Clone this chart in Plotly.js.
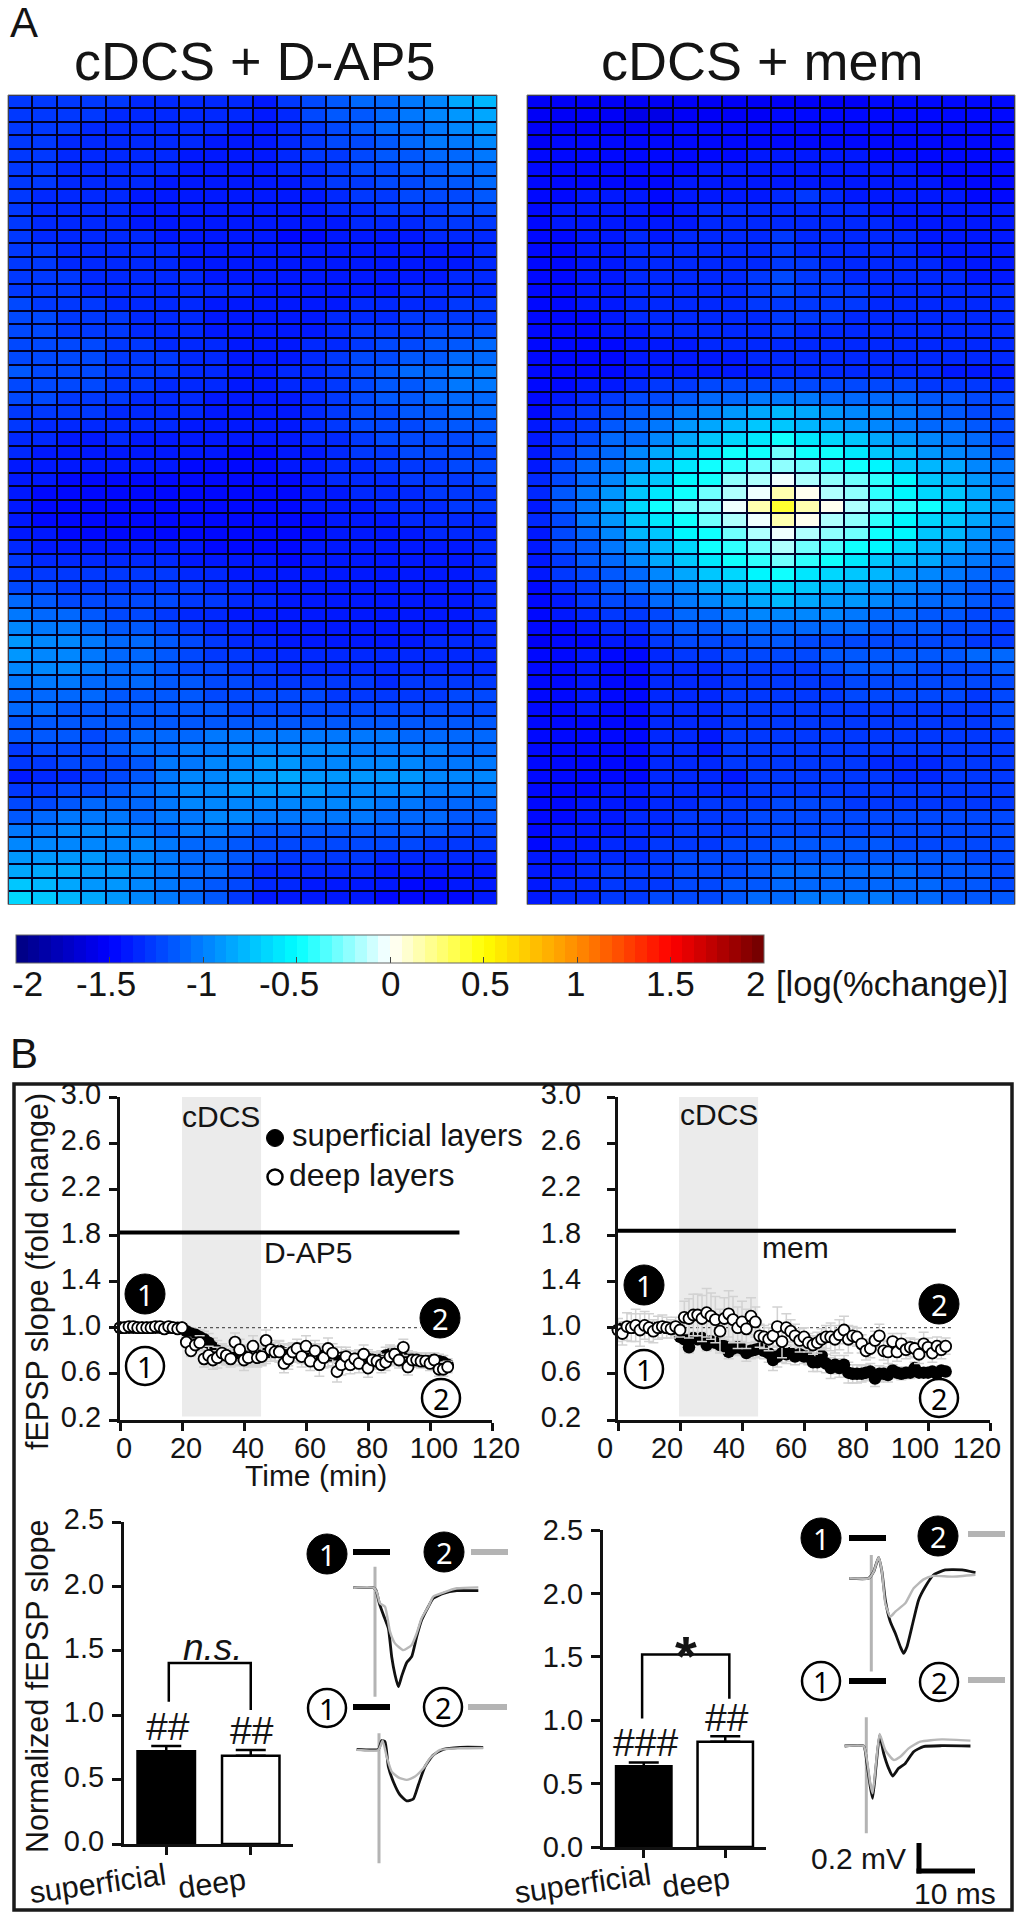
<!DOCTYPE html>
<html>
<head>
<meta charset="utf-8">
<script src="https://cdn.plot.ly/plotly-3.0.1.min.js"></script>
<style>html,body{margin:0;padding:0;background:#fff}#chart{width:1024px;height:1920px}</style>
</head>
<body>
<div id="chart"></div>
<script>
// ---------- Panel A: log(%change) in hundredths, 60 rows x 20 columns ----------
const dap5Rows = [
[-130,-130,-130,-131,-131,-132,-132,-133,-134,-136,-138,-128,-122,-116,-112,-108,-102,-96,-86,-78],
[-129,-130,-130,-131,-132,-133,-133,-134,-135,-137,-139,-132,-124,-118,-114,-109,-104,-98,-90,-83],
[-128,-130,-131,-132,-133,-133,-134,-135,-137,-139,-139,-134,-126,-120,-116,-112,-107,-102,-96,-90],
[-128,-130,-132,-133,-134,-134,-135,-136,-138,-140,-140,-135,-128,-123,-119,-115,-110,-106,-102,-97],
[-129,-130,-133,-134,-134,-135,-136,-138,-141,-141,-140,-136,-131,-126,-122,-118,-114,-110,-107,-103],
[-129,-131,-134,-135,-135,-136,-137,-139,-142,-142,-141,-137,-133,-129,-125,-121,-117,-114,-111,-107],
[-129,-131,-134,-135,-136,-137,-138,-140,-142,-143,-142,-139,-135,-131,-128,-124,-120,-118,-115,-111],
[-130,-132,-135,-136,-137,-138,-140,-141,-142,-142,-142,-140,-138,-134,-131,-128,-125,-122,-120,-117],
[-130,-132,-135,-136,-137,-138,-140,-141,-141,-141,-141,-141,-140,-137,-134,-131,-129,-127,-125,-122],
[-129,-132,-135,-136,-137,-138,-139,-140,-140,-141,-142,-143,-142,-140,-137,-135,-133,-131,-129,-127],
[-128,-132,-135,-136,-136,-137,-138,-140,-141,-141,-142,-144,-144,-143,-141,-139,-138,-137,-136,-135],
[-128,-131,-134,-135,-136,-137,-137,-139,-140,-140,-141,-143,-143,-143,-142,-141,-140,-139,-139,-137],
[-127,-130,-132,-134,-135,-136,-136,-138,-139,-139,-140,-141,-142,-142,-141,-140,-139,-139,-138,-137],
[-128,-130,-131,-132,-134,-135,-136,-137,-138,-138,-139,-140,-141,-140,-140,-139,-138,-138,-137,-136],
[-128,-130,-131,-132,-133,-134,-135,-136,-137,-137,-138,-140,-140,-140,-139,-138,-137,-137,-136,-136],
[-125,-127,-129,-130,-132,-134,-134,-135,-138,-141,-141,-142,-142,-139,-135,-137,-134,-132,-131,-130],
[-124,-124,-126,-128,-131,-134,-134,-136,-139,-142,-142,-143,-140,-136,-133,-133,-130,-129,-128,-127],
[-124,-124,-126,-128,-130,-133,-134,-136,-140,-142,-142,-143,-138,-134,-130,-129,-127,-124,-122,-122],
[-122,-122,-123,-125,-127,-129,-132,-134,-137,-140,-141,-142,-136,-132,-127,-125,-122,-118,-115,-112],
[-120,-120,-122,-124,-127,-128,-131,-133,-136,-139,-140,-138,-134,-129,-125,-119,-115,-113,-108,-107],
[-116,-120,-122,-123,-126,-128,-130,-133,-135,-140,-140,-137,-133,-127,-123,-117,-112,-109,-106,-104],
[-120,-122,-123,-125,-128,-130,-132,-134,-137,-141,-140,-137,-133,-127,-122,-117,-113,-110,-106,-103],
[-122,-123,-126,-127,-129,-132,-133,-136,-139,-141,-141,-140,-134,-128,-123,-118,-114,-112,-110,-108],
[-126,-128,-128,-130,-132,-134,-135,-137,-140,-142,-142,-141,-135,-129,-125,-121,-118,-113,-112,-110],
[-130,-134,-134,-134,-135,-136,-137,-139,-141,-142,-143,-141,-135,-130,-125,-122,-120,-117,-116,-114],
[-134,-137,-138,-138,-137,-138,-139,-141,-142,-143,-143,-142,-136,-132,-128,-125,-122,-120,-119,-117],
[-137,-140,-141,-141,-140,-140,-141,-142,-143,-144,-144,-142,-138,-134,-131,-128,-125,-123,-121,-120],
[-138,-142,-143,-143,-142,-142,-143,-144,-145,-145,-144,-143,-140,-136,-133,-130,-128,-126,-124,-123],
[-140,-143,-145,-145,-145,-144,-144,-145,-145,-145,-145,-144,-141,-137,-134,-132,-130,-128,-127,-125],
[-143,-146,-147,-147,-147,-146,-146,-146,-146,-146,-146,-145,-142,-138,-136,-134,-132,-130,-129,-127],
[-143,-146,-147,-147,-147,-146,-146,-146,-146,-146,-146,-145,-143,-140,-138,-136,-134,-132,-131,-130],
[-140,-144,-146,-146,-147,-145,-145,-145,-146,-146,-146,-145,-144,-142,-139,-138,-136,-135,-134,-132],
[-140,-143,-145,-146,-146,-145,-144,-144,-145,-146,-146,-145,-144,-142,-140,-139,-138,-137,-136,-134],
[-136,-140,-142,-143,-143,-142,-142,-143,-144,-145,-145,-145,-143,-142,-140,-140,-139,-139,-138,-136],
[-131,-134,-135,-136,-136,-135,-136,-138,-140,-142,-143,-144,-143,-142,-141,-141,-140,-140,-139,-137],
[-127,-130,-131,-131,-131,-130,-131,-134,-137,-140,-142,-143,-143,-143,-142,-142,-141,-141,-140,-137],
[-120,-124,-126,-126,-127,-126,-127,-130,-133,-136,-139,-141,-142,-142,-142,-142,-141,-141,-140,-137],
[-112,-117,-120,-122,-124,-124,-125,-128,-131,-134,-137,-140,-141,-142,-142,-142,-141,-141,-140,-137],
[-103,-108,-112,-118,-122,-124,-128,-132,-136,-138,-140,-141,-141,-141,-141,-141,-141,-140,-139,-137],
[-99,-102,-106,-110,-115,-118,-124,-128,-132,-135,-138,-139,-140,-140,-140,-140,-140,-139,-138,-136],
[-93,-96,-100,-105,-110,-112,-118,-124,-128,-132,-136,-138,-138,-139,-138,-138,-138,-137,-136,-135],
[-92,-95,-98,-102,-108,-110,-116,-122,-126,-130,-134,-135,-137,-137,-137,-137,-137,-136,-135,-134],
[-97,-98,-100,-104,-108,-110,-115,-120,-124,-128,-131,-132,-134,-135,-135,-135,-134,-134,-133,-132],
[-101,-102,-105,-107,-110,-112,-116,-118,-122,-125,-127,-127,-130,-131,-131,-132,-131,-130,-129,-128],
[-107,-108,-110,-112,-113,-114,-117,-118,-120,-122,-124,-125,-125,-127,-127,-127,-127,-126,-125,-124],
[-111,-112,-113,-114,-115,-115,-116,-117,-118,-119,-120,-121,-121,-122,-122,-122,-122,-120,-120,-119],
[-115,-113,-115,-115,-116,-116,-116,-116,-116,-116,-115,-115,-115,-116,-116,-116,-117,-116,-115,-115],
[-118,-116,-118,-120,-114,-112,-110,-108,-104,-103,-102,-102,-103,-104,-105,-106,-107,-109,-110,-111],
[-128,-124,-122,-124,-118,-112,-108,-104,-102,-100,-97,-97,-99,-100,-101,-102,-104,-106,-107,-108],
[-130,-128,-122,-124,-120,-113,-106,-102,-100,-95,-93,-93,-96,-96,-96,-97,-98,-102,-102,-103],
[-138,-134,-132,-126,-122,-114,-103,-100,-94,-92,-88,-86,-92,-93,-93,-93,-93,-98,-98,-98],
[-130,-127,-122,-120,-116,-110,-102,-100,-96,-91,-90,-90,-93,-95,-95,-95,-97,-102,-102,-102],
[-121,-119,-113,-112,-110,-107,-103,-100,-97,-96,-97,-99,-100,-100,-100,-102,-106,-108,-108,-108],
[-113,-110,-106,-106,-105,-107,-105,-102,-99,-100,-103,-105,-106,-106,-106,-108,-110,-112,-113,-114],
[-105,-102,-100,-99,-100,-105,-107,-105,-106,-108,-113,-113,-113,-114,-114,-114,-116,-118,-119,-120],
[-99,-97,-96,-95,-96,-100,-106,-107,-110,-113,-120,-122,-121,-122,-124,-124,-125,-127,-128,-128],
[-93,-92,-91,-93,-94,-98,-104,-107,-112,-118,-125,-128,-127,-128,-130,-132,-133,-135,-136,-135],
[-85,-86,-86,-91,-92,-97,-103,-107,-112,-122,-132,-133,-134,-135,-137,-138,-139,-140,-140,-139],
[-75,-77,-82,-89,-91,-96,-103,-107,-113,-125,-136,-137,-138,-139,-141,-143,-144,-144,-142,-140],
[-66,-70,-77,-87,-90,-96,-103,-108,-114,-128,-140,-140,-141,-142,-143,-145,-146,-146,-144,-141]
];
const memRows = [
[-153,-153,-153,-154,-154,-154,-153,-153,-153,-153,-153,-153,-153,-152,-149,-149,-148,-148,-148,-148],
[-155,-155,-156,-156,-157,-157,-156,-152,-151,-151,-150,-150,-150,-150,-149,-149,-149,-148,-148,-148],
[-154,-154,-153,-152,-152,-151,-150,-149,-149,-148,-148,-148,-148,-148,-148,-148,-148,-148,-148,-148],
[-155,-150,-149,-149,-149,-148,-148,-147,-146,-146,-145,-145,-146,-146,-146,-146,-147,-147,-147,-147],
[-150,-148,-148,-148,-147,-147,-146,-145,-144,-142,-140,-140,-141,-142,-144,-145,-145,-146,-146,-146],
[-148,-148,-148,-147,-147,-146,-144,-143,-142,-141,-139,-139,-140,-141,-142,-143,-144,-145,-145,-146],
[-148,-147,-147,-146,-146,-145,-143,-142,-141,-140,-139,-139,-139,-140,-141,-142,-143,-144,-144,-145],
[-148,-146,-142,-142,-143,-144,-142,-140,-139,-138,-132,-131,-137,-139,-140,-141,-142,-143,-144,-144],
[-147,-141,-142,-142,-143,-144,-140,-136,-135,-135,-133,-134,-135,-136,-138,-139,-141,-142,-143,-143],
[-146,-143,-143,-143,-143,-143,-139,-136,-135,-135,-134,-134,-135,-136,-137,-138,-140,-142,-143,-143],
[-146,-144,-143,-142,-137,-138,-137,-136,-135,-134,-128,-133,-134,-135,-136,-137,-139,-141,-142,-142],
[-146,-144,-143,-141,-136,-137,-136,-135,-134,-133,-126,-132,-133,-134,-135,-136,-138,-140,-141,-141],
[-146,-144,-142,-140,-136,-136,-135,-134,-133,-132,-126,-131,-132,-133,-134,-135,-137,-139,-140,-140],
[-146,-144,-142,-140,-135,-135,-134,-133,-132,-131,-125,-130,-131,-132,-133,-134,-136,-137,-138,-138],
[-146,-144,-142,-140,-135,-135,-134,-133,-132,-131,-125,-130,-130,-131,-132,-133,-135,-136,-136,-136],
[-147,-145,-143,-141,-136,-135,-134,-133,-132,-131,-126,-130,-130,-131,-132,-133,-134,-135,-135,-135],
[-147,-146,-144,-142,-137,-136,-135,-134,-133,-132,-127,-131,-131,-132,-133,-134,-134,-135,-135,-135],
[-148,-147,-145,-143,-138,-137,-136,-135,-134,-133,-128,-132,-132,-133,-134,-135,-135,-136,-136,-136],
[-148,-147,-146,-144,-140,-139,-138,-137,-136,-135,-133,-134,-134,-135,-135,-136,-136,-137,-137,-137],
[-148,-148,-147,-145,-141,-140,-139,-138,-138,-137,-135,-135,-135,-136,-136,-137,-137,-137,-137,-137],
[-148,-148,-147,-145,-142,-141,-140,-139,-138,-138,-136,-136,-136,-137,-137,-137,-137,-138,-138,-138],
[-147,-147,-142,-139,-133,-131,-127,-124,-122,-121,-120,-120,-121,-122,-124,-125,-127,-129,-131,-133],
[-146,-138,-135,-131,-125,-122,-117,-111,-107,-106,-105,-106,-108,-110,-111,-112,-115,-118,-121,-124],
[-144,-134,-128,-122,-115,-108,-102,-96,-90,-85,-81,-86,-91,-96,-100,-104,-110,-116,-120,-125],
[-143,-133,-128,-118,-110,-104,-93,-85,-79,-75,-74,-79,-85,-93,-97,-102,-108,-112,-116,-122],
[-142,-128,-122,-112,-107,-97,-83,-74,-68,-58,-50,-58,-68,-75,-83,-91,-99,-105,-111,-121],
[-141,-127,-118,-108,-99,-85,-74,-58,-50,-44,-30,-44,-50,-62,-72,-81,-91,-97,-105,-113],
[-139,-125,-112,-103,-89,-75,-62,-50,-42,-30,-19,-30,-38,-48,-56,-70,-79,-87,-97,-105],
[-137,-122,-108,-97,-81,-70,-56,-44,-25,-15,-5,-17,-25,-26,-40,-54,-70,-81,-91,-101],
[-136,-117,-101,-89,-75,-62,-44,-28,-17,-5,17,0,-13,-25,-40,-52,-66,-75,-85,-95],
[-138,-115,-101,-87,-68,-50,-30,-19,-4,17,42,17,0,-13,-26,-40,-50,-68,-81,-93],
[-136,-119,-101,-89,-75,-60,-44,-28,-16,-5,17,0,-13,-25,-38,-52,-66,-75,-85,-95],
[-138,-123,-108,-97,-81,-70,-55,-44,-26,-15,-5,-16,-22,-30,-44,-56,-70,-81,-91,-101],
[-140,-125,-113,-103,-91,-77,-63,-50,-38,-28,-18,-30,-36,-44,-54,-66,-77,-87,-97,-105],
[-141,-128,-118,-108,-99,-85,-75,-60,-50,-42,-30,-42,-50,-60,-70,-78,-87,-95,-103,-111],
[-143,-130,-122,-113,-107,-95,-85,-73,-65,-56,-50,-58,-66,-73,-81,-89,-95,-103,-109,-115],
[-145,-134,-126,-118,-112,-104,-95,-85,-78,-70,-64,-71,-77,-84,-90,-97,-103,-108,-113,-118],
[-147,-140,-130,-124,-120,-112,-105,-98,-92,-85,-79,-84,-88,-93,-98,-103,-108,-112,-116,-120],
[-148,-143,-133,-129,-126,-119,-112,-108,-104,-98,-95,-98,-100,-104,-107,-110,-113,-117,-120,-123],
[-150,-147,-140,-136,-134,-125,-118,-115,-112,-108,-107,-109,-110,-112,-114,-116,-118,-121,-124,-126],
[-152,-150,-147,-142,-140,-130,-125,-123,-120,-118,-118,-120,-121,-122,-122,-122,-123,-125,-127,-128],
[-145,-146,-143,-146,-147,-132,-128,-128,-124,-122,-122,-122,-118,-116,-115,-115,-116,-118,-110,-112],
[-146,-148,-143,-146,-147,-136,-134,-132,-127,-126,-126,-126,-120,-118,-118,-118,-120,-124,-120,-116],
[-147,-148,-142,-146,-147,-136,-135,-134,-127,-126,-127,-126,-126,-120,-120,-120,-122,-124,-124,-120],
[-148,-149,-143,-146,-147,-136,-136,-135,-127,-127,-127,-127,-128,-122,-121,-121,-123,-125,-126,-122],
[-148,-149,-143,-146,-147,-137,-136,-136,-128,-127,-128,-128,-129,-126,-126,-127,-126,-127,-128,-124],
[-148,-149,-144,-146,-147,-137,-137,-137,-129,-128,-129,-129,-130,-129,-129,-128,-128,-128,-128,-125],
[-148,-149,-144,-146,-147,-137,-137,-138,-129,-129,-129,-130,-130,-130,-131,-130,-130,-130,-130,-127],
[-148,-149,-144,-146,-147,-137,-137,-138,-130,-130,-130,-130,-130,-131,-131,-131,-131,-130,-130,-128],
[-147,-146,-144,-145,-146,-137,-137,-137,-131,-130,-130,-130,-130,-131,-132,-132,-132,-131,-131,-129],
[-147,-146,-144,-145,-145,-137,-137,-136,-141,-131,-130,-130,-130,-131,-131,-132,-132,-131,-131,-130],
[-146,-146,-144,-142,-142,-136,-136,-132,-132,-130,-128,-128,-128,-130,-130,-130,-130,-130,-130,-129],
[-146,-145,-143,-141,-141,-136,-132,-130,-130,-128,-125,-124,-124,-126,-127,-127,-127,-128,-128,-128],
[-145,-145,-143,-138,-137,-137,-131,-129,-128,-125,-122,-122,-122,-123,-124,-124,-125,-125,-125,-125],
[-145,-141,-140,-138,-135,-132,-129,-128,-126,-123,-120,-120,-120,-120,-121,-122,-122,-122,-123,-124],
[-144,-140,-139,-137,-133,-131,-127,-127,-125,-122,-118,-117,-117,-117,-118,-119,-119,-121,-122,-124],
[-142,-139,-137,-135,-132,-130,-124,-124,-122,-118,-114,-113,-113,-113,-114,-115,-116,-118,-120,-122],
[-140,-138,-137,-131,-130,-128,-123,-122,-120,-115,-112,-111,-110,-110,-110,-112,-114,-116,-118,-120],
[-139,-136,-134,-130,-129,-127,-122,-122,-118,-113,-110,-109,-108,-108,-108,-110,-112,-115,-117,-119],
[-138,-134,-132,-128,-128,-125,-120,-120,-116,-112,-108,-106,-106,-106,-106,-108,-112,-114,-116,-118]
];
const colorTicks = [-2,-1.5,-1,-0.5,0,0.5,1,1.5,2];
const colorTickLabels = ['-2','-1.5','-1','-0.5','0','0.5','1','1.5','2'];

// ---------- Panel B: time courses (fold change) ----------
const minutes = [0,1.4,2.9,4.3,5.7,7.1,8.6,10,11.4,12.9,14.3,15.7,17.1,18.6,20,21.4,22.9,24.3,25.7,27.1,28.6,30,31.4,32.9,34.3,35.7,37.1,38.6,40,41.4,42.9,44.3,45.7,47.1,48.6,50,51.4,52.9,54.3,55.7,57.1,58.6,60,61.4,62.9,64.3,65.7,67.1,68.6,70,71.4,72.9,74.3,75.7,77.1,78.6,80,81.4,82.9,84.3,85.7,87.1,88.6,90,91.4,92.9,94.3,95.7,97.1,98.6,100,101.4,102.9,104.3,105.7];
const dap5Superficial = [1,1,1,1,1,1,1,1,1,1,1,1,1,1,1,.97,.95,.94,.92,.9,.87,.83,.8,.77,.76,.75,.76,.76,.76,.76,.76,.76,.76,.78,.79,.79,.8,.78,.76,.78,.78,.78,.78,.77,.77,.76,.75,.75,.75,.74,.74,.73,.72,.73,.73,.73,.73,.72,.72,.73,.76,.77,.75,.74,.73,.73,.73,.72,.72,.72,.72,.71,.71,.7,.68];
const dap5Deep = [1,1,1.01,1.01,1,1,1,1,1.01,1.01,.99,1.01,1,.99,1,.875,.8,.85,.87,.73,.76,.72,.74,.78,.76,.73,.875,.81,.72,.74,.84,.74,.75,.89,.81,.79,.79,.69,.73,.79,.82,.75,.84,.71,.8,.68,.74,.82,.78,.62,.68,.75,.68,.73,.69,.77,.65,.72,.71,.68,.7,.75,.77,.72,.83,.66,.72,.72,.71,.71,.69,.72,.64,.64,.66];
const dap5Err = [.01,.01,.01,.01,.01,.01,.01,.01,.01,.01,.01,.01,.01,.01,.01,.04,.05,.05,.06,.07,.08,.08,.09,.08,.08,.07,.08,.09,.09,.08,.09,.08,.08,.09,.08,.08,.09,.08,.09,.08,.08,.09,.09,.08,.09,.1,.09,.09,.08,.09,.09,.08,.08,.07,.08,.08,.08,.07,.07,.07,.07,.08,.07,.07,.07,.07,.06,.06,.06,.06,.06,.06,.06,.06,.05];
const memSuperficial = [.98,1,1,1,1,1,1,1,1,1,1,1,1,1,.92,.9,.83,.91,.9,.91,.85,.88,.87,.85,.84,.79,.82,.83,.82,.78,.8,.81,.82,.8,.78,.72,.75,.78,.77,.78,.75,.77,.75,.75,.7,.7,.76,.69,.65,.68,.65,.68,.61,.6,.6,.6,.61,.62,.56,.6,.6,.59,.63,.61,.6,.61,.61,.65,.61,.61,.61,.62,.6,.63,.62];
const memDeep = [.98,.95,1.01,1,1.02,.98,1.02,1,.97,1,1.01,1,.99,1.01,.98,1.09,1.08,1.11,1.11,1.08,1.13,1.1,1.07,.97,1.08,1.12,1.07,1,1.05,.99,1.1,1.05,.93,.92,.9,.93,1.01,.88,1,.97,.93,.89,.92,.87,.85,.87,.9,.92,.92,.9,.94,.98,.9,.93,.92,.86,.8,.82,.89,.93,.8,.79,.88,.79,.86,.81,.83,.82,.77,.86,.83,.78,.84,.81,.84];
const memSuperficialErr = [.02,.02,.02,.02,.02,.02,.02,.02,.02,.02,.02,.02,.02,.02,.02,.04,.05,.05,.05,.05,.05,.05,.05,.05,.05,.06,.06,.06,.06,.07,.07,.07,.07,.07,.08,.09,.09,.08,.08,.07,.07,.06,.06,.07,.08,.08,.07,.08,.09,.08,.08,.08,.09,.08,.08,.07,.07,.07,.07,.07,.06,.06,.05,.05,.05,.05,.05,.05,.04,.04,.04,.04,.04,.04,.04];
const memDeepErr = [.1,.1,.12,.12,.14,.14,.12,.12,.1,.1,.1,.09,.08,.08,.06,.14,.17,.18,.18,.2,.21,.2,.2,.19,.18,.2,.2,.18,.18,.17,.16,.13,.1,.1,.1,.1,.17,.14,.12,.1,.1,.1,.08,.08,.08,.09,.09,.1,.12,.12,.13,.12,.12,.08,.08,.08,.08,.08,.08,.1,.08,.1,.07,.08,.09,.08,.08,.08,.08,.1,.08,.08,.08,.08,.07];
const drugBarLeft = {x:[0,109.5], y:[1.826,1.826]};
const drugBarRight = {x:[0,109], y:[1.84,1.84]};
const baselineLeft = {x:[0,97], y:[1,1]};
const baselineRight = {x:[0,108], y:[1,1]};
const cdcsLeft = [20,45.5];
const cdcsRight = [19.7,45.2];

// ---------- Panel B: bars (normalized fEPSP slope) ----------
const barCategories = ['superficial','deep'];
const dap5Bars = [.72,.685];
const dap5BarsErr = [.04,.045];
const memBars = [.637,.83];
const memBarsErr = [.03,.044];

// ---------- Panel B: field potential sweeps (ms, mV) ----------
const w1BlackT = [-3.87,-.3,.18,.77,1.49,2.38,2.98,3.57,4.17,4.76,5.65,6.55,7.44,8.33,9.52,10.4,12.2,14.6,18.45];
const w1BlackV = [0,0,-.016,-.104,-.18,-.27,-.46,-.58,-.66,-.59,-.5,-.46,-.327,-.216,-.127,-.071,-.038,-.02,-.02];
const w1GrayT = [-3.87,-.3,.3,.89,1.79,2.68,3.57,5.06,6.55,7.44,8.33,9.52,10.4,12.2,14.6,18.45];
const w1GrayV = [0,0,-.027,-.104,-.127,-.293,-.371,-.416,-.382,-.304,-.204,-.127,-.06,-.033,-.004,.002];
const w1Art = [.14,-.727];
const w2BlackT = [-3.99,-.1,.48,1.07,1.67,2.56,3.75,4.94,6.13,7.02,8.21,9.7,11.5,14.5,18.6];
const w2BlackV = [0,0,.058,.051,-.116,-.216,-.304,-.344,-.331,-.238,-.116,-.038,0,.013,.013];
const w2GrayT = [-3.99,-.1,.65,1.37,2.26,3.45,4.94,6.43,7.92,9.1,10.9,14.5,18.6];
const w2GrayV = [-.004,-.004,.058,-.049,-.149,-.187,-.204,-.182,-.127,-.06,-.004,.007,.009];
const w2Art = [.107,-.76];
const w3BlackT = [-3.93,-.48,.42,1.31,1.9,2.5,3.39,4.29,5.18,5.77,6.37,7.26,8.45,9.64,11.1,13.2,16.2,18.6];
const w3BlackV = [0,0,.044,.14,.044,-.144,-.289,-.367,-.456,-.5,-.456,-.322,-.144,-.056,.022,.056,.056,.038];
const w3GrayT = [-3.93,-.48,.42,1.31,1.9,2.5,3.39,4.29,6.07,7.56,9.35,11.1,14.4,18.6];
const w3GrayV = [0,0,.044,.14,.044,-.167,-.256,-.222,-.167,-.067,-.007,.016,.011,.024];
const w3Art = [.156,-.622];
const w4BlackT = [-3.87,-.48,.12,.71,1.13,1.73,2.38,3.1,3.99,4.7,5.77,6.96,8.45,10.2,13.5,18.6];
const w4BlackV = [0,0,-.116,-.271,-.349,-.138,.073,-.049,-.149,-.2,-.149,-.116,-.038,-.004,.002,0];
const w4GrayT = [-3.87,-.48,.12,.71,1.13,1.73,2.38,3.39,4.88,6.07,7.56,9.64,13.5,18.6];
const w4GrayV = [0,0,-.093,-.249,-.316,-.116,.08,-.027,-.093,-.071,-.016,.029,.044,.036];
const w4Art = [.191,-.582];

// ---------- helpers (layout only) ----------
const W = 1024, H = 1920, FONT = 'Liberation Sans', INK = '#141414';
const px = x => x / W, py = y => 1 - y / H;
const domX = (a, b) => [px(a), px(b)], domY = (top, bot) => [py(bot), py(top)];
const annotations = [], shapes = [], traces = [];
function txt(x, y, text, size, o) {
  annotations.push(Object.assign({xref:'paper', yref:'paper', x:px(x), y:py(y), text, showarrow:false,
    xanchor:'center', yanchor:'middle', font:{family:FONT, size, color:INK}}, o || {}));
}
function circle(cx, cy, r, filled, label) {
  shapes.push({type:'circle', xref:'paper', yref:'paper', x0:px(cx-r), x1:px(cx+r), y0:py(cy+r), y1:py(cy-r),
    fillcolor: filled ? '#000' : '#fff', line:{color:'#000', width: filled ? 1 : 2.5}, layer:'above'});
  if (label) annotations.push({xref:'paper', yref:'paper', x:px(cx), y:py(cy), text:label, showarrow:false, xanchor:'center', yanchor:'middle',
    font:{family:'Noto Sans', size:29, color: filled ? '#fff' : '#000'}});
}
function bar(x0, x1, y, color, w) {
  shapes.push({type:'line', xref:'paper', yref:'paper', x0:px(x0), x1:px(x1), y0:py(y), y1:py(y), line:{color, width:w}, layer:'above'});
}

// ---------- colour scale: 64 flat steps through the reference's stops ----------
const stops = [[0,[0,0,128]],[.125,[0,0,255]],[.375,[0,255,255]],[.5,[255,255,255]],[.625,[255,255,0]],[.75,[255,140,0]],[.875,[255,0,0]],[1,[110,0,0]]];
function stopColor(t) {
  for (let i = 1; i < stops.length; i++) if (t <= stops[i][0]) {
    const f = (t - stops[i-1][0]) / (stops[i][0] - stops[i-1][0]);
    const c = stops[i-1][1].map((v, k) => Math.round(v + f * (stops[i][1][k] - v)));
    return 'rgb(' + c.join(',') + ')';
  }
  return 'rgb(110,0,0)';
}
const colorscale = [];
for (let i = 0; i < 64; i++) { const c = stopColor((i + .5) / 64); colorscale.push([i / 64, c], [(i + 1) / 64, c]); }

// ---------- heatmaps ----------
const toLog = rows => rows.map(r => r.map(v => v / 100));
const heatBase = {type:'heatmap', colorscale, zmin:-2, zmax:2, xgap:2, ygap:2, hoverinfo:'skip'};
traces.push(Object.assign({}, heatBase, {z:toLog(dap5Rows), xaxis:'x', yaxis:'y',
  colorbar:{orientation:'h', x:px(16), xanchor:'left', y:py(969.5), yanchor:'bottom', lenmode:'pixels', len:748,
    thicknessmode:'pixels', thickness:28, xpad:0, ypad:0, outlinewidth:1, outlinecolor:'#666',
    tickmode:'array', tickvals:colorTicks, ticks:'inside', ticklen:6, tickcolor:'#444', tickwidth:1, showticklabels:false}}));
traces.push(Object.assign({}, heatBase, {z:toLog(memRows), xaxis:'x2', yaxis:'y2', showscale:false}));
const hiddenX = (d, a) => ({domain:d, anchor:a, visible:false, range:[-.5,19.5], fixedrange:true});
const hiddenY = (d, a) => ({domain:d, anchor:a, visible:false, range:[59.5,-.5], fixedrange:true});
[[8,497],[527,1015]].forEach(([a,b]) => shapes.push({type:'rect', xref:'paper', yref:'paper', x0:px(a), x1:px(b), y0:py(904.5), y1:py(95),
  fillcolor:'#00002a', line:{color:'#7a7a7a', width:1}, layer:'below'}));

// ---------- time courses ----------
function timeTraces(xa, ya, sup, deep, supErr, deepErr, drug, base) {
  const common = {x:minutes, xaxis:xa, yaxis:ya, type:'scatter', mode:'markers', cliponaxis:false, hoverinfo:'skip'};
  traces.push({x:drug.x, y:drug.y, xaxis:xa, yaxis:ya, type:'scatter', mode:'lines', line:{color:'#000', width:4}, hoverinfo:'skip'});
  traces.push({x:base.x, y:base.y, xaxis:xa, yaxis:ya, type:'scatter', mode:'lines', line:{color:'#333', width:1, dash:'dot'}, hoverinfo:'skip'});
  traces.push(Object.assign({}, common, {y:sup, marker:{size:12.5, color:'#000'},
    error_y:{type:'data', array:supErr, color:'#d2d2d2', thickness:1.5, width:5}}));
  traces.push(Object.assign({}, common, {y:deep, marker:{size:11, color:'#fff', line:{color:'#000', width:1.8}},
    error_y:{type:'data', array:deepErr, color:'#d2d2d2', thickness:1.5, width:5}}));
}
timeTraces('x3','y3',dap5Superficial,dap5Deep,dap5Err,dap5Err,drugBarLeft,baselineLeft);
timeTraces('x4','y4',memSuperficial,memDeep,memSuperficialErr,memDeepErr,drugBarRight,baselineRight);

const axisBase = {showline:true, linecolor:'#111', linewidth:3, ticks:'outside', tickcolor:'#111', tickwidth:3, ticklen:8,
  showgrid:false, zeroline:false, fixedrange:true, tickfont:{family:FONT, size:29, color:INK}};
function timeX(d, a, shift) { return Object.assign({}, axisBase, {domain:d, anchor:a, range:[0,120], tickmode:'array', tickvals:[0,20,40,60,80,100,120], ticklabelshift:shift, ticklabelstandoff:-8}); }
function timeY(d, a, off) { return Object.assign({}, axisBase, {domain:d, anchor:a, range:[.2,3], tickmode:'array', tickvals:[.2,.6,1,1.4,1.8,2.2,2.6,3], tickformat:'.1f', ticklabelstandoff:off, ticklabelshift:-3}); }
[[cdcsLeft,'x3','y3'],[cdcsRight,'x4','y4']].forEach(([b,xr,yr]) => shapes.push({type:'rect', xref:xr, yref:yr, x0:b[0], x1:b[1], y0:.23, y1:3, fillcolor:'#ebebeb', line:{width:0}, layer:'below'}));

// ---------- bars ----------
function barTraces(xa, ya, vals, errs, bracket) {
  traces.push({type:'bar', x:[0,1], y:vals, xaxis:xa, yaxis:ya, width:.68, marker:{color:['#000','#fff'], line:{color:'#000', width:2.5}},
    error_y:{type:'data', symmetric:false, array:errs, arrayminus:[0,0], color:'#000', thickness:2.5, width:15}, hoverinfo:'skip'});
  traces.push({type:'scatter', mode:'lines', x:bracket.x, y:bracket.y, xaxis:xa, yaxis:ya, line:{color:'#000', width:2.5}, hoverinfo:'skip'});
}
barTraces('x5','y5',dap5Bars,dap5BarsErr,{x:[.03,.03,1,1], y:[1.104,1.406,1.406,1.04]});
barTraces('x6','y6',memBars,memBarsErr,{x:[-.02,-.02,1.05,1.05], y:[1.013,1.518,1.518,1.17]});
function barX(d, a) { return Object.assign({}, axisBase, {domain:d, anchor:a, range:[-.5,1.5], tickmode:'array', tickvals:[0,1], showticklabels:false}); }
function barY(d, a, shift) { return Object.assign({}, axisBase, {domain:d, anchor:a, range:[0,2.5], tickmode:'array', tickvals:[0,.5,1,1.5,2,2.5], tickformat:'.1f', ticklen:9, ticklabelstandoff:2, ticklabelshift:shift}); }

// ---------- sweeps ----------
const MS = 5.6, MV = 150;
const layoutExtra = {};
function sweep(n, ox, oy, art, bT, bV, gT, gV) {
  const xn = 'x' + n, yn = 'y' + n;
  const base = {type:'scatter', mode:'lines', xaxis:xn, yaxis:yn, hoverinfo:'skip'};
  traces.push(Object.assign({}, base, {x:[0,0], y:art, line:{color:'#b4b4b4', width:3}}));
  traces.push(Object.assign({}, base, {x:bT, y:bV, line:{color:'#111', width:2.8, shape:'spline', smoothing:.5}}));
  traces.push(Object.assign({}, base, {x:gT, y:gV, line:{color:'#b8b8b8', width:2.4, shape:'spline', smoothing:.5}}));
  const L = 30, R = 115, T = 40, B = 130;
  layoutExtra['xaxis' + n] = {domain:domX(ox-L, ox+R), anchor:yn, visible:false, range:[-L/MS, R/MS], fixedrange:true};
  layoutExtra['yaxis' + n] = {domain:domY(oy-T, oy+B), anchor:xn, visible:false, range:[-B/MV, T/MV], fixedrange:true};
}
sweep(7, 375, 1587.7, w1Art, w1BlackT, w1BlackV, w1GrayT, w1GrayV);
sweep(8, 379, 1749.3, w2Art, w2BlackT, w2BlackV, w2GrayT, w2GrayV);
sweep(9, 871.3, 1578.3, w3Art, w3BlackT, w3BlackV, w3GrayT, w3GrayV);
sweep(10, 866.3, 1746, w4Art, w4BlackT, w4BlackV, w4GrayT, w4GrayV);

// ---------- text ----------
txt(24, 23, 'A', 42);
txt(24, 1053, 'B', 42);
txt(255, 61, 'cDCS + D-AP5', 54);
txt(762, 61, 'cDCS + mem', 54);
const colorLabelX = [27,106,201,289,390,485,575,670,755];
colorTickLabels.forEach((t, i) => txt(colorLabelX[i], 984, t, 35));
txt(892, 984, '[log(%change)]', 34.5);

txt(37, 1272, 'fEPSP slope (fold change)', 30.5, {textangle:-90});
txt(37, 1687, 'Normalized fEPSP slope', 30.5, {textangle:-90});
txt(316, 1475, 'Time (min)', 30);
txt(221, 1116, 'cDCS', 30);
txt(719, 1114, 'cDCS', 30);
txt(308, 1252, 'D-AP5', 30);
txt(795, 1247, 'mem', 30);
txt(407, 1135, 'superficial layers', 31);
txt(371.5, 1175, 'deep layers', 32);
circle(275, 1138, 8.5, true, '');
circle(275, 1177, 7.5, false, '');
circle(145, 1294, 20, true, '1');
circle(145, 1366, 19, false, '1');
circle(440, 1318, 20, true, '2');
circle(441, 1398, 19, false, '2');
circle(644, 1285, 20, true, '1');
circle(644, 1369, 19, false, '1');
circle(939, 1304, 20, true, '2');
circle(939, 1398, 19, false, '2');

const catAngle = -8;
txt(97, 1883, barCategories[0], 30.5, {textangle:catAngle});
txt(212, 1883, barCategories[1], 30.5, {textangle:catAngle});
txt(582, 1883, barCategories[0], 30.5, {textangle:catAngle});
txt(696, 1882, barCategories[1], 30.5, {textangle:catAngle});
txt(213, 1647, '<i>n.s.</i>', 37);
txt(168, 1726, '##', 39);
txt(252, 1730, '##', 39);
txt(645, 1742, '###', 39);
txt(727, 1717, '##', 39);
txt(686, 1655, '<b>*</b>', 56);

circle(327, 1554, 20, true, '1'); bar(353, 390, 1552, '#000', 6);
circle(444, 1552, 20, true, '2'); bar(471, 508, 1552, '#b4b4b4', 6);
circle(327, 1708, 19, false, '1'); bar(353, 390, 1707, '#000', 6);
circle(443, 1707, 19, false, '2'); bar(468, 507, 1707, '#b4b4b4', 6);
circle(821, 1538, 20, true, '1'); bar(849, 886, 1538, '#000', 6);
circle(938, 1536, 20, true, '2'); bar(968, 1005, 1534, '#b4b4b4', 6);
circle(821, 1681, 19, false, '1'); bar(849, 886, 1681, '#000', 6);
circle(939, 1682, 19, false, '2'); bar(968, 1005, 1680, '#b4b4b4', 6);

// scale bar
shapes.push({type:'line', xref:'paper', yref:'paper', x0:px(919), x1:px(919), y0:py(1843), y1:py(1873.5), line:{color:'#000', width:5}, layer:'above'});
bar(916.5, 975, 1871, '#000', 5);
txt(858, 1858, '0.2 mV', 30);
txt(955, 1893, '10 ms', 30);

// outer frame of panel B
shapes.push({type:'rect', xref:'paper', yref:'paper', x0:px(14), x1:px(1012), y0:py(1910), y1:py(1084), line:{color:'#1a1a1a', width:3.5}, fillcolor:'rgba(0,0,0,0)', layer:'below'});

const layout = Object.assign({
  width:W, height:H, margin:{l:0,r:0,t:0,b:0}, showlegend:false, paper_bgcolor:'#fff', plot_bgcolor:'rgba(0,0,0,0)',
  font:{family:FONT, color:INK}, barmode:'overlay', annotations, shapes,
  xaxis:hiddenX(domX(8,497),'y'), yaxis:hiddenY(domY(95,904.5),'x'),
  xaxis2:hiddenX(domX(527,1015),'y2'), yaxis2:hiddenY(domY(95,904.5),'x2'),
  xaxis3:timeX(domX(120,492),'y3',4), yaxis3:timeY(domY(1097,1420),'x3',2),
  xaxis4:timeX(domX(618,990),'y4',-13), yaxis4:timeY(domY(1097,1420),'x4',20),
  xaxis5:barX(domX(124,293),'y5'), yaxis5:barY(domY(1522,1844),'x5',-3),
  xaxis6:barX(domX(603,766),'y6'), yaxis6:barY(domY(1530,1847),'x6',0)
}, layoutExtra);
Plotly.newPlot('chart', traces, layout, {staticPlot:true, displayModeBar:false});
</script>
</body>
</html>
